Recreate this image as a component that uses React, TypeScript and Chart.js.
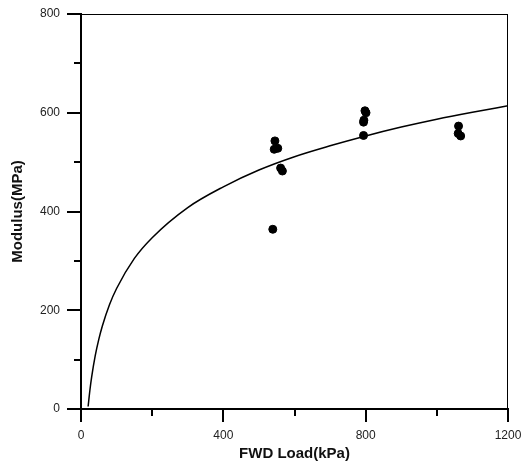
import React, { useEffect, useRef } from "react";
import { Chart, registerables } from "chart.js";

Chart.register(...registerables);

// Measured data points (FWD Load kPa, Modulus MPa)
const loadX = [545, 543, 553, 561, 566, 539, 798, 801, 795, 794, 794, 1061, 1060, 1067];
const modulusY = [543, 526, 528, 488, 482, 364, 604, 600, 585, 581, 554, 573, 558, 553];

// Fitted curve
const curveX = [20, 25, 30, 40, 50, 60, 80, 100, 150, 200, 300, 400, 500, 600, 700, 800, 900, 1000, 1100, 1200];
const curveY = [5, 38, 65, 108, 141, 168, 211, 244, 305, 347, 408, 450, 484, 511, 533, 553, 571, 587, 601, 614];

const xTicks = [0, 200, 400, 600, 800, 1000, 1200];
const yTicks = [0, 100, 200, 300, 400, 500, 600, 700, 800];

const FONT = "'Liberation Sans', Arial, sans-serif";

const framePlugin = {
  id: "frame",
  afterDraw(chart: any) {
    const { ctx, chartArea } = chart;
    const xs = chart.scales.x;
    const ys = chart.scales.y;
    ctx.save();
    ctx.strokeStyle = "#000";
    ctx.lineWidth = 1;
    ctx.beginPath();
    ctx.moveTo(chartArea.left, chartArea.top + 0.5);
    ctx.lineTo(chartArea.right, chartArea.top + 0.5);
    ctx.moveTo(chartArea.right - 0.5, chartArea.top);
    ctx.lineTo(chartArea.right - 0.5, chartArea.bottom);
    ctx.stroke();
    ctx.lineWidth = 2;
    ctx.beginPath();
    xTicks.forEach((v) => {
      const px = Math.round(xs.getPixelForValue(v));
      const len = v % 400 === 0 ? 13 : 7;
      ctx.moveTo(px, chartArea.bottom);
      ctx.lineTo(px, chartArea.bottom + len);
    });
    yTicks.forEach((v) => {
      const py = Math.round(ys.getPixelForValue(v));
      const len = v % 200 === 0 ? 14 : 7;
      ctx.moveTo(chartArea.left, py);
      ctx.lineTo(chartArea.left - len, py);
    });
    ctx.stroke();
    ctx.restore();
  },
};

const zeroPad = (s: any) => {
  s.paddingTop = 0;
  s.paddingBottom = 0;
  s.paddingLeft = 0;
  s.paddingRight = 0;
};

export default function App() {
  const ref = useRef<HTMLCanvasElement>(null);
  useEffect(() => {
    if (!ref.current) return;
    const chart = new Chart(ref.current, {
      type: "scatter",
      data: {
        datasets: [
          {
            data: loadX.map((x, i) => ({ x, y: modulusY[i] })),
            backgroundColor: "#000",
            borderColor: "#000",
            pointRadius: 4,
            pointHoverRadius: 4,
            order: 0,
          },
          {
            data: curveX.map((x, i) => ({ x, y: curveY[i] })),
            showLine: true,
            borderColor: "#000",
            borderWidth: 1.5,
            pointRadius: 0,
            cubicInterpolationMode: "monotone",
            order: 1,
          } as any,
        ],
      },
      options: {
        animation: false,
        responsive: false,
        maintainAspectRatio: false,
        layout: { padding: { top: 14, right: 14, left: 0, bottom: 0 } },
        plugins: { legend: { display: false }, tooltip: { enabled: false } },
        scales: {
          x: {
            type: "linear",
            min: 0,
            max: 1200,
            afterFit: (s: any) => {
              s.height = 54;
              zeroPad(s);
            },
            afterBuildTicks: (s: any) => {
              s.ticks = xTicks.map((v) => ({ value: v }));
            },
            ticks: {
              autoSkip: false,
              maxRotation: 0,
              padding: 19,
              color: "#222",
              font: { family: FONT, size: 12 },
              callback: (v: any) => (Number(v) % 400 === 0 ? String(v) : ""),
            },
            grid: { drawOnChartArea: false, drawTicks: false },
            border: { display: true, color: "#000", width: 2 },
            title: {
              display: true,
              text: "FWD Load(kPa)",
              color: "#111",
              font: { family: FONT, size: 15, weight: "bold" },
              padding: { top: 0, bottom: 0 },
            },
          },
          y: {
            type: "linear",
            min: 0,
            max: 800,
            afterFit: (s: any) => {
              s.width = 81;
              zeroPad(s);
            },
            afterBuildTicks: (s: any) => {
              s.ticks = yTicks.map((v) => ({ value: v }));
            },
            ticks: {
              autoSkip: false,
              padding: 21,
              color: "#222",
              font: { family: FONT, size: 12 },
              callback: (v: any) => (Number(v) % 200 === 0 ? String(v) : ""),
            },
            grid: { drawOnChartArea: false, drawTicks: false },
            border: { display: true, color: "#000", width: 2 },
            title: {
              display: true,
              text: "Modulus(MPa)",
              color: "#111",
              font: { family: FONT, size: 15, weight: "bold" },
              padding: { top: 9, bottom: 0 },
            },
          },
        },
      },
      plugins: [framePlugin],
    });
    return () => chart.destroy();
  }, []);
  return (
    <div style={{ position: "fixed", left: 0, top: 0, width: 522, height: 463, background: "#fff" }}>
      <canvas ref={ref} width={522} height={463} style={{ width: 522, height: 463 }} />
    </div>
  );
}
